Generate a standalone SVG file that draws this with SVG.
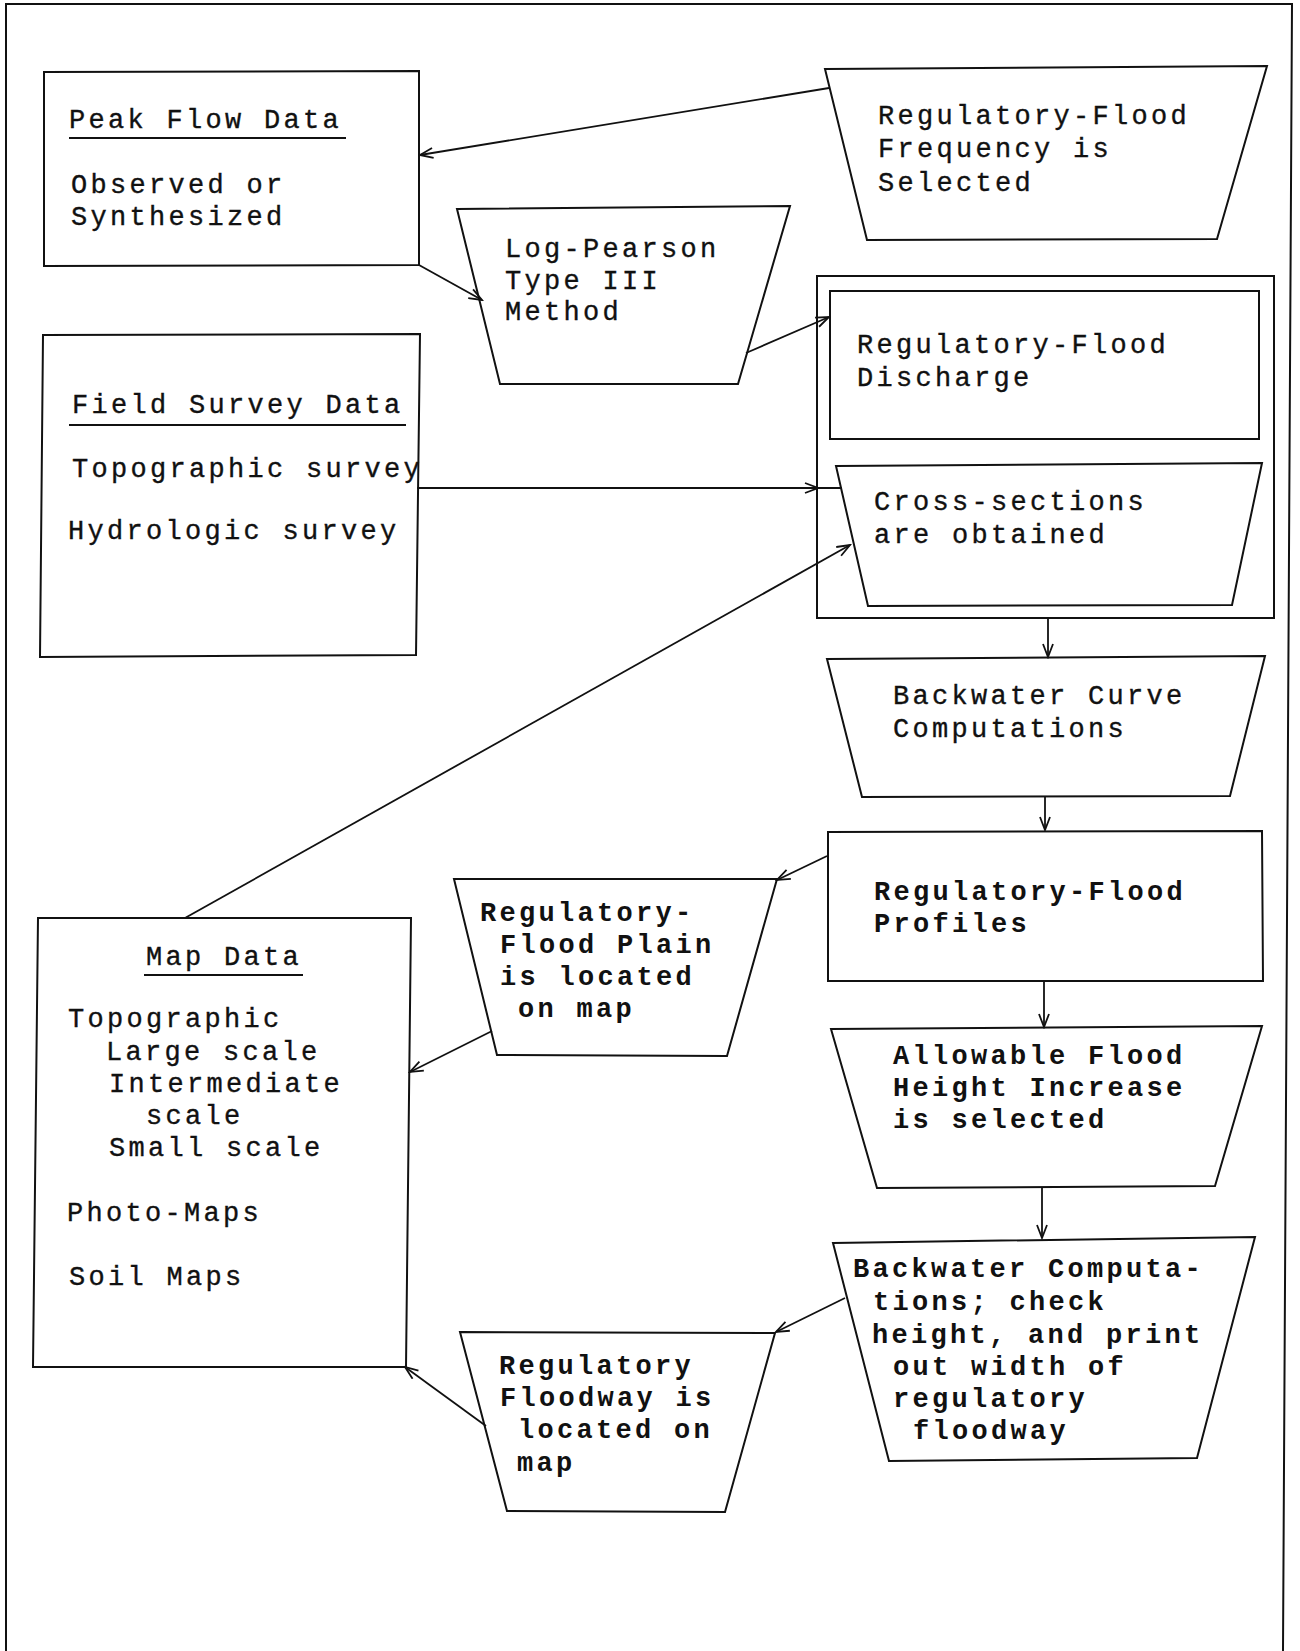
<svg xmlns="http://www.w3.org/2000/svg" width="1300" height="1651" viewBox="0 0 1300 1651">
<style>
.shape{fill:none;stroke:#111;stroke-width:2}
.conn{fill:none;stroke:#111;stroke-width:1.8}
.t{font-family:"Liberation Mono","DejaVu Sans Mono",monospace;font-size:27px;letter-spacing:3.3px;fill:#111;stroke:#111;stroke-width:0.35}
.b{font-weight:bold;stroke-width:0}
.ul{stroke:#111;stroke-width:2.2}
</style>
<defs>
<marker id="ah" markerWidth="16" markerHeight="12" refX="14" refY="6" orient="auto" markerUnits="userSpaceOnUse">
<path d="M1,1 L14,6 L1,11" fill="none" stroke="#111" stroke-width="1.8"/>
</marker>
</defs>
<rect width="1300" height="1651" fill="#fff"/>
<polyline class="shape" points="6,1651 6,4 1292,4 1283,1651"/>

<g id="peak-flow">
<polygon class="shape" points="44,72 419,71 419,265 44,266"/>
<text class="t" x="69" y="128">Peak Flow Data</text>
<line class="ul" x1="69" y1="138" x2="346" y2="138"/>
<text class="t" x="71" y="193">Observed or</text>
<text class="t" x="71" y="225">Synthesized</text>
</g>

<g id="frequency">
<polygon class="shape" points="825,69 1267,66 1217,239 867,240"/>
<text class="t" x="878" y="124">Regulatory-Flood</text>
<text class="t" x="878" y="157">Frequency is</text>
<text class="t" x="878" y="191">Selected</text>
</g>

<g id="log-pearson">
<polygon class="shape" points="457,209 790,206 738,384 500,384"/>
<text class="t" x="505" y="257">Log-Pearson</text>
<text class="t" x="505" y="289">Type III</text>
<text class="t" x="505" y="320">Method</text>
</g>

<g id="group-box">
<rect class="shape" x="817" y="276" width="457" height="342"/>
</g>

<g id="discharge">
<rect class="shape" x="830" y="291" width="429" height="148"/>
<text class="t" x="857" y="353">Regulatory-Flood</text>
<text class="t" x="857" y="386">Discharge</text>
</g>

<g id="cross-sections">
<polygon class="shape" points="836,466 1262,463 1232,605 868,606"/>
<text class="t" x="874" y="510">Cross-sections</text>
<text class="t" x="874" y="543">are obtained</text>
</g>

<g id="field-survey">
<polygon class="shape" points="43,335 420,334 416,655 40,657"/>
<text class="t" x="72" y="413">Field Survey Data</text>
<line class="ul" x1="69" y1="425" x2="406" y2="425"/>
<text class="t" x="72" y="477">Topographic survey</text>
<text class="t" x="68" y="539">Hydrologic survey</text>
</g>

<g id="backwater-curve">
<polygon class="shape" points="827,659 1265,656 1230,796 862,797"/>
<text class="t" x="893" y="704">Backwater Curve</text>
<text class="t" x="893" y="737">Computations</text>
</g>

<g id="profiles">
<polygon class="shape" points="828,832 1262,831 1263,981 828,981"/>
<text class="t b" x="874" y="900">Regulatory-Flood</text>
<text class="t b" x="874" y="932">Profiles</text>
</g>

<g id="flood-plain">
<polygon class="shape" points="454,879 777,879 727,1056 497,1055"/>
<text class="t b" x="480" y="921">Regulatory-</text>
<text class="t b" x="500" y="953">Flood Plain</text>
<text class="t b" x="500" y="985">is located</text>
<text class="t b" x="518" y="1017">on map</text>
</g>

<g id="map-data">
<polygon class="shape" points="38,918 411,918 406,1367 33,1367"/>
<text class="t" x="146" y="965">Map Data</text>
<line class="ul" x1="144" y1="975" x2="303" y2="975"/>
<text class="t" x="68" y="1027">Topographic</text>
<text class="t" x="106" y="1060">Large scale</text>
<text class="t" x="109" y="1092">Intermediate</text>
<text class="t" x="146" y="1124">scale</text>
<text class="t" x="109" y="1156">Small scale</text>
<text class="t" x="67" y="1221">Photo-Maps</text>
<text class="t" x="69" y="1285">Soil Maps</text>
</g>

<g id="allowable">
<polygon class="shape" points="831,1029 1262,1026 1215,1186 877,1188"/>
<text class="t b" x="893" y="1064">Allowable Flood</text>
<text class="t b" x="893" y="1096">Height Increase</text>
<text class="t b" x="893" y="1128">is selected</text>
</g>

<g id="backwater-comp">
<polygon class="shape" points="833,1243 1255,1237 1197,1458 889,1461"/>
<text class="t b" x="853" y="1277">Backwater Computa-</text>
<text class="t b" x="873" y="1310">tions; check</text>
<text class="t b" x="872" y="1343">height, and print</text>
<text class="t b" x="893" y="1375">out width of</text>
<text class="t b" x="893" y="1407">regulatory</text>
<text class="t b" x="913" y="1439">floodway</text>
</g>

<g id="floodway">
<polygon class="shape" points="460,1332 775,1333 725,1512 507,1511"/>
<text class="t b" x="499" y="1374">Regulatory</text>
<text class="t b" x="500" y="1406">Floodway is</text>
<text class="t b" x="518" y="1438">located on</text>
<text class="t b" x="517" y="1471">map</text>
</g>

<g id="connectors">
<line class="conn" x1="829" y1="88" x2="420" y2="155" marker-end="url(#ah)"/>
<line class="conn" x1="419" y1="265" x2="482" y2="300" marker-end="url(#ah)"/>
<line class="conn" x1="746" y1="353" x2="829" y2="317" marker-end="url(#ah)"/>
<path class="conn" d="M417,488 L818,488 L842,488" marker-mid="url(#ah)"/>
<line class="conn" x1="185" y1="918" x2="850" y2="545" marker-end="url(#ah)"/>
<line class="conn" x1="1048" y1="618" x2="1048" y2="657" marker-end="url(#ah)"/>
<line class="conn" x1="1045" y1="797" x2="1045" y2="830" marker-end="url(#ah)"/>
<line class="conn" x1="827" y1="856" x2="777" y2="880" marker-end="url(#ah)"/>
<line class="conn" x1="492" y1="1031" x2="410" y2="1072" marker-end="url(#ah)"/>
<line class="conn" x1="1044" y1="981" x2="1044" y2="1027" marker-end="url(#ah)"/>
<line class="conn" x1="1042" y1="1187" x2="1042" y2="1238" marker-end="url(#ah)"/>
<line class="conn" x1="845" y1="1298" x2="776" y2="1332" marker-end="url(#ah)"/>
<line class="conn" x1="486" y1="1426" x2="405" y2="1367" marker-end="url(#ah)"/>
</g>
</svg>
